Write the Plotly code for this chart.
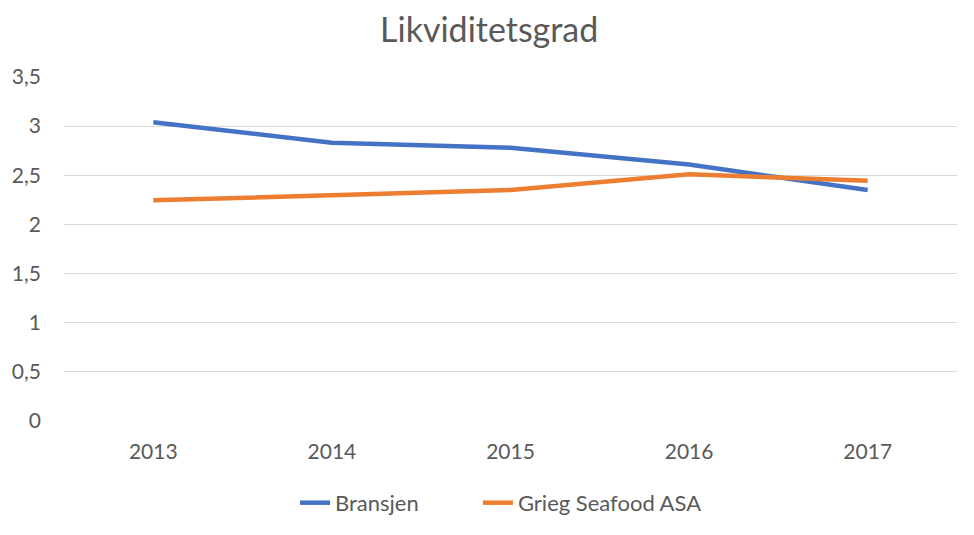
import plotly.graph_objects as go

years = ["2013", "2014", "2015", "2016", "2017"]
bransjen = [3.04, 2.83, 2.78, 2.61, 2.35]
grieg = [2.245, 2.30, 2.35, 2.51, 2.445]

font_family = "Lato, 'Open Sans', sans-serif"
grey = "#595959"

fig = go.Figure()
fig.add_trace(go.Scatter(x=years, y=bransjen, mode="lines", name="Bransjen",
                         line=dict(color="#4472C4", width=4.5), legend="legend"))
fig.add_trace(go.Scatter(x=years, y=grieg, mode="lines", name="Grieg Seafood ASA",
                         line=dict(color="#ED7D31", width=4.5), legend="legend2"))

legend_common = dict(orientation="h", xref="container", yref="container",
                     xanchor="left", y=0.075, yanchor="middle",
                     font=dict(size=22, color=grey))

fig.update_layout(
    width=974, height=535,
    margin=dict(l=56, r=25, t=69, b=122),
    paper_bgcolor="white", plot_bgcolor="white",
    separators=", ",
    font=dict(family=font_family, color=grey, size=21),
    title=dict(text="Likviditetsgrad", x=0.494, xanchor="center", y=0.958, yanchor="middle",
               xref="container", yref="container",
               font=dict(size=34, color=grey)),
    showlegend=True,
    legend=dict(x=0.2947, **legend_common),
    legend2=dict(x=0.4825, **legend_common),
    xaxis=dict(type="category", range=[-0.5, 4.5], showgrid=False, showline=False,
               zeroline=False, ticks="", ticklabelstandoff=16, automargin=False,
               tickfont=dict(size=21, color=grey)),
    yaxis=dict(range=[0, 3.5], dtick=0.5, showgrid=True, gridcolor="#D9D9D9", gridwidth=1.3,
               zeroline=False, showline=False, ticks="", ticklabelstandoff=22, automargin=False,
               tickfont=dict(size=21, color=grey)),
)

fig.write_html("out.html")
